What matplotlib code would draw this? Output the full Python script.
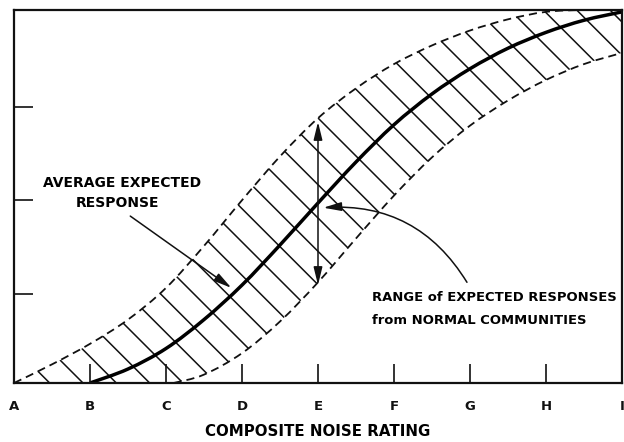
import matplotlib
matplotlib.use("Agg")
import matplotlib.pyplot as plt
import numpy as np
from matplotlib.path import Path
from matplotlib.patches import PathPatch

# ---- data ----
tick_labels = ["A", "B", "C", "D", "E", "F", "G", "H", "I"]
y_ticks = [0.95, 1.96, 2.96]

center_x = [1.0, 1.5, 2.0, 2.5, 3.0, 3.5, 4.0, 4.5, 5.0, 5.5, 6.0, 6.5, 7.0, 7.5, 8.0]
center_y = [0.0, 0.15, 0.37, 0.68, 1.05, 1.48, 1.93, 2.37, 2.77, 3.10, 3.37, 3.59, 3.76, 3.89, 3.98]

upper_x = [0.0, 0.5, 1.0, 1.5, 2.0, 2.5, 3.0, 3.5, 4.0, 4.5, 5.0, 5.5, 6.0, 6.5, 7.0, 7.5, 8.0]
upper_y = [0.0, 0.20, 0.42, 0.68, 1.02, 1.47, 1.96, 2.43, 2.84, 3.16, 3.42, 3.62, 3.78, 3.90, 3.98, 4.0, 4.0]

lower_x = [2.1, 2.5, 3.0, 3.5, 4.0, 4.5, 5.0, 5.5, 6.0, 6.5, 7.0, 7.5, 8.0]
lower_y = [0.0, 0.09, 0.32, 0.66, 1.08, 1.55, 2.01, 2.42, 2.76, 3.03, 3.25, 3.42, 3.54]


def smooth_segments(xs, ys):
    """Cubic Bezier segments (Catmull-Rom) passing through the given points."""
    p = np.column_stack([xs, ys]).astype(float)
    n = len(p)
    verts, codes = [], []
    for i in range(n - 1):
        p0 = p[i - 1] if i > 0 else p[i]
        p1, p2 = p[i], p[i + 1]
        p3 = p[i + 2] if i + 2 < n else p[i + 1]
        verts += [tuple(p1 + (p2 - p0) / 6), tuple(p2 - (p3 - p1) / 6), tuple(p2)]
        codes += [Path.CURVE4] * 3
    return verts, codes


def smooth_path(xs, ys):
    v, c = smooth_segments(xs, ys)
    return Path([(xs[0], ys[0])] + v, [Path.MOVETO] + c)


plt.rcParams["font.family"] = ["DejaVu Sans"]
plt.rcParams["hatch.linewidth"] = 1.1

fig = plt.figure(figsize=(6.24, 4.42), dpi=100)
ax = fig.add_axes([14 / 624, 59 / 442, 608 / 624, 373 / 442])
ax.set_xlim(0, 8)
ax.set_ylim(0, 4)

# hatched band (upper boundary, then lower boundary reversed, closed along the axis)
uv, uc = smooth_segments(upper_x, upper_y)
lv, lc = smooth_segments(lower_x[::-1], lower_y[::-1])
band_verts = [(upper_x[0], upper_y[0])] + uv + [(lower_x[-1], lower_y[-1])] + lv + [(upper_x[0], upper_y[0])]
band_codes = [Path.MOVETO] + uc + [Path.LINETO] + lc + [Path.CLOSEPOLY]
ax.add_patch(PathPatch(Path(band_verts, band_codes), facecolor="none", edgecolor="#111111",
                       hatch="\\", linewidth=0))

# dashed boundaries
for xs, ys in ((upper_x, upper_y), (lower_x, lower_y)):
    ax.add_patch(PathPatch(smooth_path(xs, ys), fill=False, edgecolor="#111111", lw=1.3,
                           linestyle=(0, (4.5, 2.8))))

# average curve
ax.add_patch(PathPatch(smooth_path(center_x, center_y), fill=False, edgecolor="#000000",
                       lw=2.5, capstyle="butt"))

# spines / ticks
for s in ax.spines.values():
    s.set_linewidth(1.6)
    s.set_color("#111111")
ax.set_xticks(range(len(tick_labels)))
ax.set_xticklabels(tick_labels, fontsize=9.5, fontweight="bold")
ax.set_yticks(y_ticks)
ax.set_yticklabels([])
ax.tick_params(axis="x", direction="in", length=14, width=1.2, pad=12, colors="#111111")
ax.tick_params(axis="y", direction="in", length=14, width=1.2, colors="#111111")

# annotations
ax.text(1.42, 2.14, "AVERAGE EXPECTED", ha="center", va="center", fontsize=10, fontweight="bold")
ax.text(1.36, 1.93, "RESPONSE", ha="center", va="center", fontsize=10, fontweight="bold")
ax.annotate("", xy=(2.86, 1.02), xytext=(1.53, 1.79),
            arrowprops=dict(arrowstyle="-|>,head_length=0.9,head_width=0.22", color="#111111",
                            lw=1.1, mutation_scale=12, shrinkA=0, shrinkB=0))

ax.annotate("", xy=(4.0, 1.05), xytext=(4.0, 2.80),
            arrowprops=dict(arrowstyle="<|-|>,head_length=0.9,head_width=0.22", color="#111111",
                            lw=1.1, mutation_scale=12, shrinkA=0, shrinkB=0))

ax.annotate("", xy=(4.07, 1.88), xytext=(5.96, 1.08),
            arrowprops=dict(arrowstyle="-|>,head_length=0.9,head_width=0.22", color="#111111",
                            lw=1.1, mutation_scale=12, shrinkA=0, shrinkB=0,
                            connectionstyle="arc3,rad=0.3"))

ax.text(4.71, 0.92, "RANGE of EXPECTED RESPONSES", ha="left", va="center",
        fontsize=9.45, fontweight="bold")
ax.text(4.71, 0.67, "from NORMAL COMMUNITIES", ha="left", va="center",
        fontsize=9.45, fontweight="bold")

fig.text(318 / 624, 1 - 432 / 442, "COMPOSITE NOISE RATING", ha="center", va="center",
         fontsize=10.8, fontweight="bold")

fig.savefig("out.png", dpi=100, facecolor="white")
